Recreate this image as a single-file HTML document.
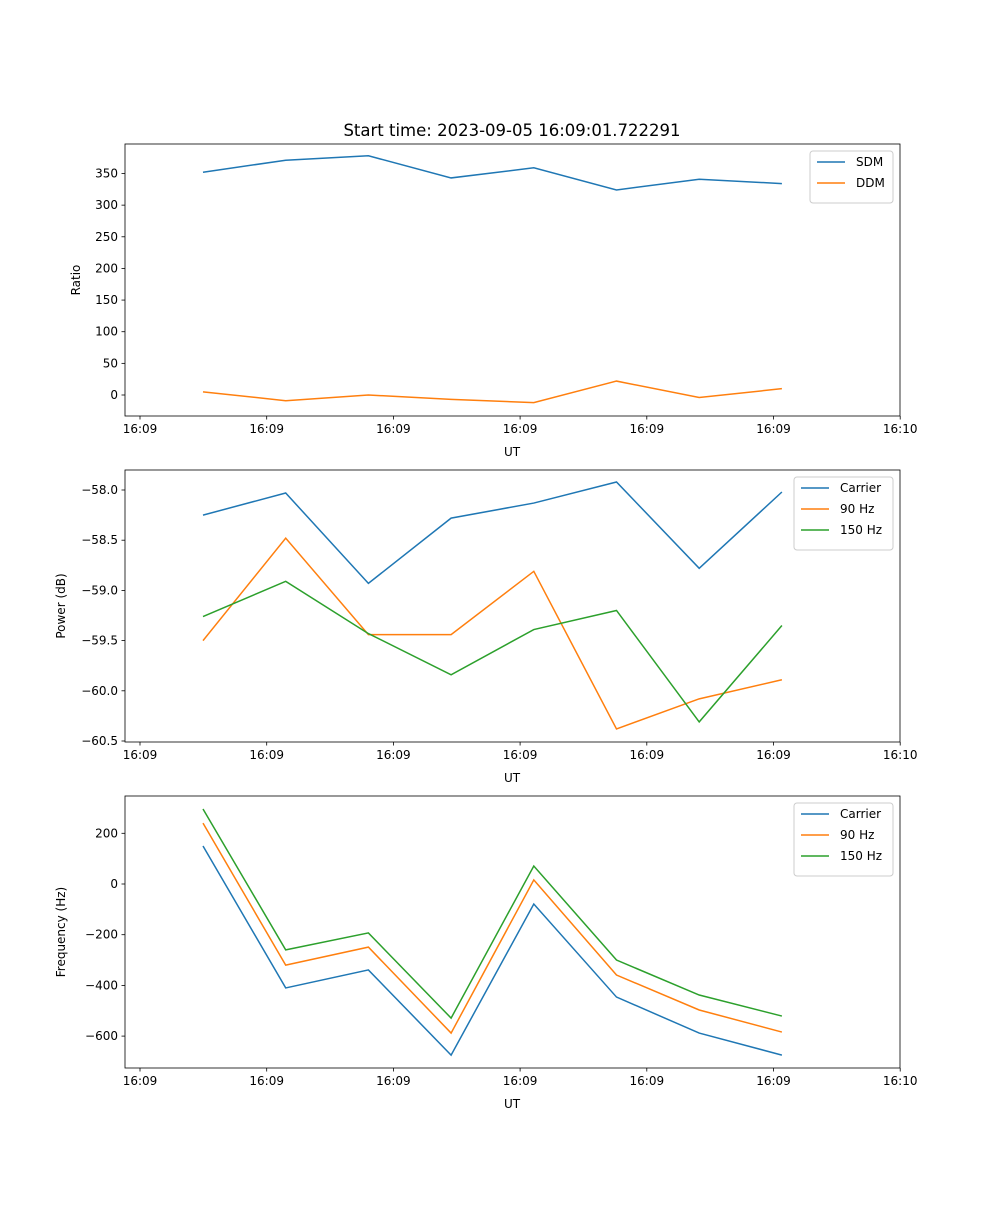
<!DOCTYPE html>
<html><head><meta charset="utf-8"><style>
body{margin:0;background:#fff}
svg text{font-family:"DejaVu Sans","Liberation Sans",sans-serif;font-size:12px;fill:#000}
</style></head><body>
<svg id="chart" width="1000" height="1200" viewBox="0 0 1000 1200" xmlns="http://www.w3.org/2000/svg">
<text x="512" y="136" text-anchor="middle" style="font-size:16.5px">Start time: 2023-09-05 16:09:01.722291</text>
</svg>
<script>
const xIndex=[0,1,2,3,4,5,6,7];
const xTickLabels=["16:09","16:09","16:09","16:09","16:09","16:09","16:10"];
const sdm=[352,371,378,343,359,324,341,334];
const ddm=[5,-9,0,-7,-12,22,-4,10];
const powCarrier=[-58.25,-58.03,-58.93,-58.28,-58.13,-57.92,-58.78,-58.02];
const pow90=[-59.5,-58.48,-59.44,-59.44,-58.81,-60.38,-60.08,-59.89];
const pow150=[-59.26,-58.91,-59.43,-59.84,-59.39,-59.2,-60.31,-59.35];
const freqCarrier=[150,-410,-339,-675,-79,-446,-588,-675];
const freq90=[240,-320,-249,-588,16,-359,-497,-584];
const freq150=[296,-260,-193,-529,71,-300,-438,-521];
const ticks1=[0,50,100,150,200,250,300,350];
const ticks2=[-60.5,-60.0,-59.5,-59.0,-58.5,-58.0];
const ticks3=[-600,-400,-200,0,200];
const C=["#1f77b4","#ff7f0e","#2ca02c"];
const svg=document.getElementById('chart');
const NS="http://www.w3.org/2000/svg";
function mk(t,a){const e=document.createElementNS(NS,t);for(const k in a)e.setAttribute(k,a[k]);svg.appendChild(e);return e;}
const L=125,R=900;
function xs(i){return 203+i*82.7;}
function panel(top,bot,y0v,y0p,y1v,y1p,ticks,fmt,ylabel,series,names,legW,legX,pname){
  const ys=v=>y0p+(v-y0v)*(y1p-y0p)/(y1v-y0v);
  series.forEach((s,k)=>{
    const p=mk('polyline',{points:s.map((v,i)=>xs(xIndex[i])+','+ys(v)).join(' '),fill:'none',stroke:C[k],'stroke-width':1.5});
    
    
  });
  const fr=mk('rect',{x:L,y:top,width:R-L,height:bot-top,fill:'none',stroke:'#000','stroke-width':0.8});
  
  
  ticks.forEach(v=>{const y=ys(v);mk('line',{x1:L-3.5,x2:L,y1:y,y2:y,stroke:'#000','stroke-width':0.8});
    const t=mk('text',{x:L-7,y:y+4,'text-anchor':'end'});t.textContent=fmt(v);
    
    });
  xTickLabels.forEach((lab,i)=>{const x=140+i*126.7;mk('line',{x1:x,x2:x,y1:bot,y2:bot+3.5,stroke:'#000','stroke-width':0.8});
    const t=mk('text',{x:x,y:bot+17,'text-anchor':'middle'});t.textContent=lab;
    
    });
  const xl=mk('text',{x:512,y:bot+40,'text-anchor':'middle'});xl.textContent='UT';
  
  
  const yl=mk('text',{x:0,y:0,'text-anchor':'middle',transform:`translate(${pname==='ratio-panel'?80:65},${(top+bot)/2}) rotate(-90)`});yl.textContent=ylabel;
  
  
  const lh=names.length*21+10;
  const lg=mk('rect',{x:legX,y:top+7,width:legW,height:lh,rx:3,fill:'#fff','fill-opacity':0.8,stroke:'#ccc'});
  
  
  names.forEach((n,k)=>{const y=top+18+k*21;mk('line',{x1:legX+7,x2:legX+35,y1:y,y2:y,stroke:C[k],'stroke-width':1.5});
    const t=mk('text',{x:legX+46,y:y+4});t.textContent=n;
    
    });
}
panel(144,416,0,395,350,173.5,ticks1,v=>String(v),'Ratio',[sdm,ddm],['SDM','DDM'],83,810,'ratio-panel');
panel(470,742,-58,490,-60.5,741,ticks2,v=>'\u2212'+Math.abs(v).toFixed(1),'Power (dB)',[powCarrier,pow90,pow150],['Carrier','90 Hz','150 Hz'],99,794,'power-panel');
panel(796,1068,0,884,200,833.3,ticks3,v=>v<0?'\u2212'+Math.abs(v):String(v),'Frequency (Hz)',[freqCarrier,freq90,freq150],['Carrier','90 Hz','150 Hz'],99,794,'frequency-panel');
</script>
</body></html>
